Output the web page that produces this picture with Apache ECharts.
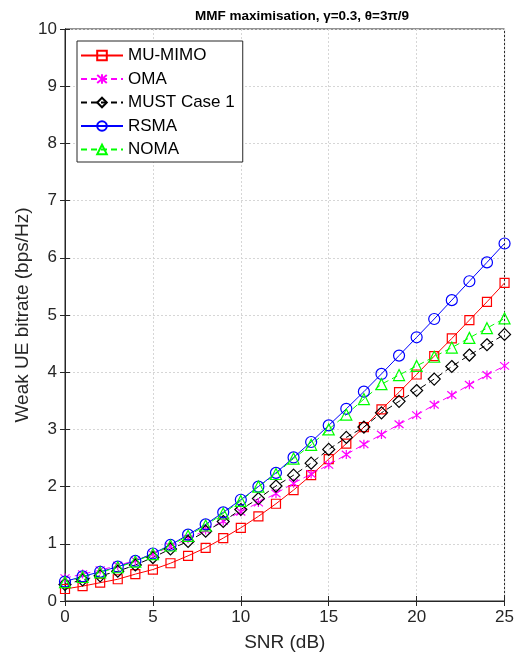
<!DOCTYPE html>
<html>
<head>
<meta charset="utf-8">
<script src="https://cdn.jsdelivr.net/npm/echarts@6/dist/echarts.min.js"></script>
<style>
html,body{margin:0;padding:0;background:#fff;}
#main{width:517px;height:661px;}
</style>
</head>
<body>
<div id="main"></div>
<script>
var snr = [0,1,2,3,4,5,6,7,8,9,10,11,12,13,14,15,16,17,18,19,20,21,22,23,24,25];
var muMimo = [0.21,0.26,0.32,0.38,0.47,0.55,0.66,0.79,0.93,1.10,1.28,1.48,1.70,1.94,2.20,2.48,2.75,3.04,3.35,3.65,3.96,4.28,4.59,4.91,5.23,5.56];
var oma = [0.40,0.47,0.54,0.62,0.71,0.82,0.95,1.09,1.24,1.40,1.56,1.72,1.88,2.06,2.22,2.38,2.56,2.74,2.91,3.09,3.25,3.43,3.60,3.78,3.95,4.11];
var must = [0.29,0.37,0.44,0.52,0.63,0.76,0.91,1.04,1.22,1.39,1.60,1.79,2.01,2.20,2.41,2.65,2.86,3.04,3.29,3.49,3.68,3.88,4.10,4.30,4.48,4.66];
var rsma = [0.34,0.43,0.51,0.60,0.70,0.83,0.98,1.16,1.34,1.55,1.77,2.00,2.24,2.51,2.78,3.07,3.36,3.66,3.97,4.29,4.61,4.93,5.26,5.59,5.92,6.25];
var noma = [0.33,0.42,0.50,0.59,0.69,0.82,0.97,1.14,1.32,1.53,1.75,2.00,2.22,2.49,2.73,3.00,3.26,3.53,3.79,3.95,4.11,4.27,4.43,4.60,4.77,4.94];

var chart = echarts.init(document.getElementById('main'), null, {renderer:'canvas'});

function pairs(ys) {
	var out = [];
	for (var i = 0; i < snr.length; i++) out.push([snr[i], ys[i]]);
	return out;
}

function mkSeries(name, ys, color, symbol, size, dashed) {
	return {
		name : name,
		type : 'line',
		data : pairs(ys),
		symbol : symbol,
		symbolSize : size,
		showAllSymbol : true,
		lineStyle : { color : color, width : 1, type : dashed ? [6,4] : 'solid' },
		itemStyle : { color : 'rgba(0,0,0,0)', borderColor : color, borderWidth : 1.2 },
		emphasis : { disabled : true },
		animation : false
	};
}

var starPath = 'path://M0,0L10,10M10,0L0,10M5,-1L5,11';

var axisText = { color : '#262626', fontSize : 17, fontFamily : 'Liberation Sans, Arial' };
var gridLine = { show : true, lineStyle : { color : '#d6d6d6', type : [2,2], width : 1 } };

var option = {
	backgroundColor : '#fff',
	title : {
		text : 'MMF maximisation, \u03b3=0.3, \u03b8=3\u03c0/9',
		left : 297, top : 4, textAlign : 'center',
		textStyle : { fontSize : 13.5, fontWeight : 'bold', color : '#000', fontFamily : 'Liberation Sans, Arial' }
	},
	grid : { left : 65, right : 12, top : 29, bottom : 60, show : true, borderColor : '#262626', borderWidth : 1 },
	legend : {
		orient : 'vertical', left : 77, top : 41,
		backgroundColor : '#fff', borderColor : '#262626', borderWidth : 1,
		padding : [6,8,4,3], itemGap : 6.5, itemWidth : 42, itemHeight : 12,
		textStyle : { fontSize : 17, color : '#000', fontFamily : 'Liberation Sans, Arial' },
		data : ['MU-MIMO','OMA','MUST Case 1','RSMA','NOMA']
	},
	xAxis : [{
		type : 'value', min : 0, max : 25, interval : 5,
		name : 'SNR (dB)', nameLocation : 'middle', nameGap : 32,
		nameTextStyle : { color : '#262626', fontSize : 19, fontFamily : 'Liberation Sans, Arial' },
		axisLine : { lineStyle : { color : '#262626' } },
		axisTick : { inside : true, length : 5, lineStyle : { color : '#262626' } },
		axisLabel : axisText,
		splitLine : gridLine
	}, {
		type : 'value', min : 0, max : 25, interval : 5, position : 'top',
		axisLine : { lineStyle : { color : '#262626' } },
		axisTick : { inside : true, length : 5, lineStyle : { color : '#262626' } },
		axisLabel : { show : false }, splitLine : { show : false }
	}],
	yAxis : [{
		type : 'value', min : 0, max : 10, interval : 1,
		name : 'Weak UE bitrate (bps/Hz)', nameLocation : 'middle', nameGap : 33,
		nameMoveOverlap : false,
		nameTextStyle : { color : '#262626', fontSize : 19, fontFamily : 'Liberation Sans, Arial' },
		axisLine : { lineStyle : { color : '#262626' } },
		axisTick : { inside : true, length : 5, lineStyle : { color : '#262626' } },
		axisLabel : axisText,
		splitLine : gridLine
	}, {
		type : 'value', min : 0, max : 10, interval : 1, position : 'right',
		axisLine : { lineStyle : { color : '#262626' } },
		axisTick : { inside : true, length : 5, lineStyle : { color : '#262626' } },
		axisLabel : { show : false }, splitLine : { show : false }
	}],
	series : [
		mkSeries('MU-MIMO', muMimo, '#ff0000', 'rect', 9, false),
		mkSeries('OMA', oma, '#ff00ff', starPath, 9, true),
		mkSeries('MUST Case 1', must, '#000000', 'diamond', 12, true),
		mkSeries('RSMA', rsma, '#0000ff', 'circle', 11, false),
		mkSeries('NOMA', noma, '#00ff00', 'triangle', 11, true)
	]
};
chart.setOption(option);
</script>
</body>
</html>
